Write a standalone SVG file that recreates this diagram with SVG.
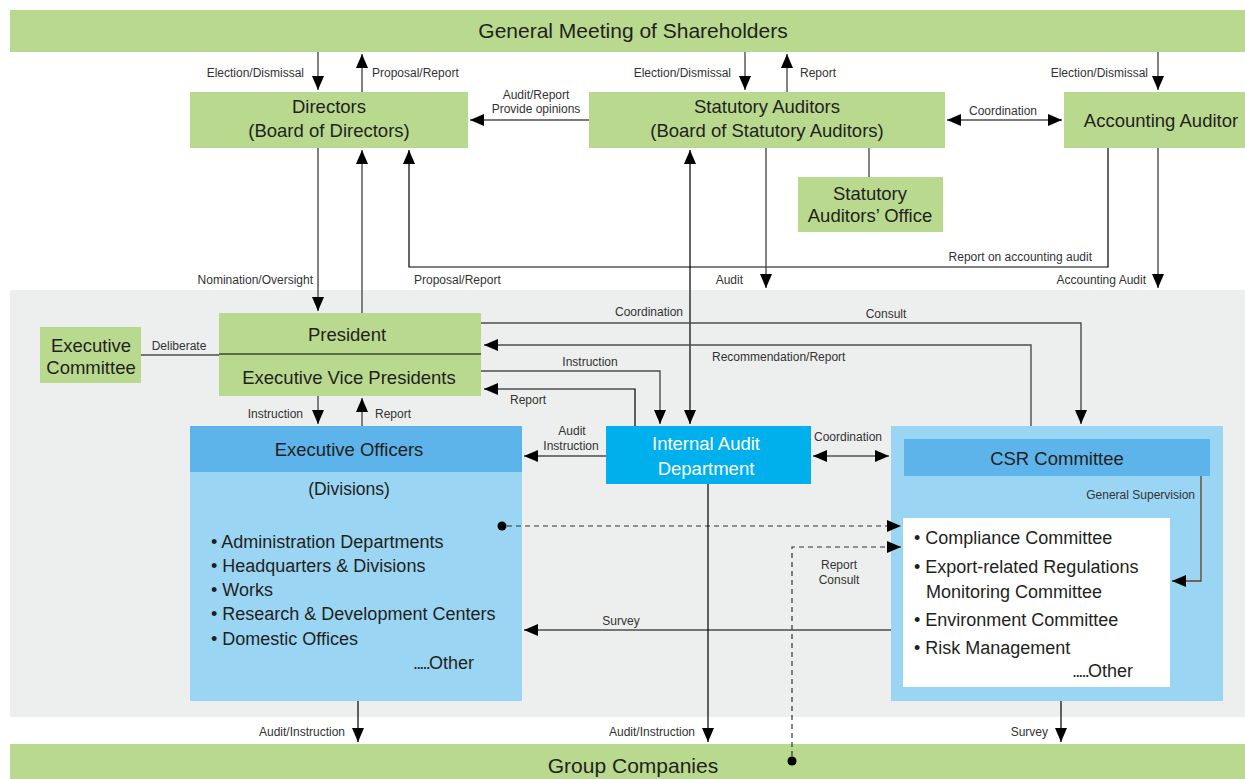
<svg xmlns="http://www.w3.org/2000/svg" width="1245" height="779" viewBox="0 0 1245 779">
<defs>
<marker id="ah" viewBox="0 0 14 12" refX="14" refY="6" markerWidth="14" markerHeight="12" markerUnits="userSpaceOnUse" orient="auto-start-reverse">
<path d="M0,0 L14,6 L0,12 Z" fill="#000"/>
</marker>
<style>
.g{fill:#b9d98f}
.t{font-family:"Liberation Sans",Arial,sans-serif;font-size:18.5px;fill:#231f20;text-anchor:middle}
.b{font-family:"Liberation Sans",Arial,sans-serif;font-size:18px;fill:#231f20}
.s{font-family:"Liberation Sans",Arial,sans-serif;font-size:12px;fill:#333}
.m{text-anchor:middle}
.e{text-anchor:end}
.c{fill:none;stroke:#4d4d4d;stroke-width:1.4}
.k{fill:none;stroke:#000;stroke-width:1.2}
.d{fill:none;stroke:#333;stroke-width:1.2;stroke-dasharray:5,4}
.a{marker-end:url(#ah)}
.aa{marker-start:url(#ah);marker-end:url(#ah)}
</style>
</defs>
<rect width="1245" height="779" fill="#fff"/>
<rect x="10" y="290" width="1235" height="427" fill="#edeeee"/>

<g id="gms"><rect class="g" x="10" y="10" width="1235" height="42"/><text class="t" x="633" y="38" style="font-size:21px">General Meeting of Shareholders</text></g>
<g id="directors"><rect class="g" x="190" y="92" width="278" height="56"/><text class="t" x="329" y="113">Directors</text><text class="t" x="329" y="137">(Board of Directors)</text></g>
<g id="statutory-auditors"><rect class="g" x="589" y="92" width="356" height="56"/><text class="t" x="767" y="113">Statutory Auditors</text><text class="t" x="767" y="137">(Board of Statutory Auditors)</text></g>
<g id="accounting-auditor"><rect class="g" x="1064" y="92" width="181" height="56"/><text class="t" x="1161" y="127">Accounting Auditor</text></g>
<g id="sa-office"><rect class="g" x="798" y="177" width="145" height="55"/><text class="t" x="870" y="200">Statutory</text><text class="t" x="870" y="222">Auditors’ Office</text></g>
<g id="exec-committee"><rect class="g" x="40" y="327" width="101" height="56"/><text class="t" x="91" y="352">Executive</text><text class="t" x="91" y="374">Committee</text></g>
<g id="president"><rect class="g" x="219" y="313" width="262" height="83"/><line x1="219" y1="354" x2="481" y2="354" stroke="#000" stroke-width="1.2"/><text class="t" x="347" y="341">President</text><text class="t" x="349" y="384">Executive Vice Presidents</text></g>
<g id="exec-officers"><rect x="190" y="426" width="332" height="275" fill="#9ad6f4"/><rect x="190" y="426" width="332" height="46" fill="#5db4ea"/><text class="t" x="349" y="456">Executive Officers</text><text class="t" x="349" y="495" style="font-size:17.5px">(Divisions)</text>
<text class="b" x="211" y="548">• Administration Departments</text><text class="b" x="211" y="572">• Headquarters &amp; Divisions</text><text class="b" x="211" y="596">• Works</text><text class="b" x="211" y="620">• Research &amp; Development Centers</text><text class="b" x="211" y="645">• Domestic Offices</text><text class="b e" x="474" y="669"><tspan letter-spacing="-1.8">.....</tspan>Other</text></g>
<g id="internal-audit"><rect x="606" y="426" width="205" height="58" fill="#00b0ec"/><text class="t" x="706" y="450" style="fill:#fff">Internal Audit</text><text class="t" x="706" y="475" style="fill:#fff">Department</text></g>
<g id="csr"><rect x="891" y="426" width="332" height="275" fill="#9ad6f4"/><rect x="904" y="439" width="306" height="37" fill="#5db4ea"/><text class="t" x="1057" y="465">CSR Committee</text><rect x="903" y="518" width="267" height="169" fill="#fff"/>
<text class="b" x="914" y="544">• Compliance Committee</text><text class="b" x="914" y="573">• Export-related Regulations</text><text class="b" x="926" y="598">Monitoring Committee</text><text class="b" x="914" y="626">• Environment Committee</text><text class="b" x="914" y="654">• Risk Management</text><text class="b e" x="1133" y="677"><tspan letter-spacing="-1.8">.....</tspan>Other</text></g>
<g id="group-companies"><rect class="g" x="10" y="744" width="1235" height="35"/><text class="t" x="633" y="773" style="font-size:21px">Group Companies</text></g>

<g id="connectors">
<line class="c a" x1="318" y1="52" x2="318" y2="90"/>
<line class="c a" x1="362" y1="92" x2="362" y2="54"/>
<line class="c a" x1="745" y1="52" x2="745" y2="90"/>
<line class="c a" x1="787" y1="92" x2="787" y2="54"/>
<line class="c a" x1="1158" y1="52" x2="1158" y2="90"/>
<line class="c a" x1="589" y1="120" x2="470" y2="120"/>
<line class="c aa" x1="947" y1="120" x2="1062" y2="120"/>
<line class="c" x1="869" y1="148" x2="869" y2="177"/>
<line class="c a" x1="318" y1="148" x2="318" y2="311"/>
<line class="c a" x1="362" y1="313" x2="362" y2="150"/>
<polyline class="k a" points="1108,148 1108,267 409,267 409,150"/>
<line class="k aa" x1="690" y1="150" x2="690" y2="424"/>
<line class="c a" x1="766" y1="148" x2="766" y2="288"/>
<line class="c a" x1="1158" y1="148" x2="1158" y2="288"/>
<line class="c" x1="141" y1="355" x2="219" y2="355"/>
<line class="c a" x1="318" y1="396" x2="318" y2="424"/>
<line class="c a" x1="362" y1="426" x2="362" y2="398"/>
<polyline class="c a" points="481,323 1081,323 1081,424"/>
<polyline class="c a" points="1031,426 1031,345 484,345"/>
<polyline class="c a" points="481,371 660,371 660,424"/>
<polyline class="k a" points="635,426 635,389 484,389"/>
<line class="c a" x1="606" y1="456" x2="524" y2="456"/>
<line class="k aa" x1="813" y1="456" x2="889" y2="456"/>
<circle cx="502" cy="526" r="4.5" fill="#000"/>
<line class="d a" x1="507" y1="526" x2="901" y2="526"/>
<circle cx="792" cy="761" r="4.5" fill="#000"/>
<polyline class="d a" points="792,756 792,547 901,547"/>
<line class="c a" x1="891" y1="630" x2="524" y2="630"/>
<polyline class="a" points="1201,476 1201,581 1172,581" fill="none" stroke="#6b3b26" stroke-width="1.3"/>
<line class="k a" x1="358" y1="701" x2="358" y2="742"/>
<line class="k a" x1="708" y1="484" x2="708" y2="742"/>
<line class="k a" x1="1061" y1="701" x2="1061" y2="742"/>
</g>

<g id="labels">
<text class="s e" x="304" y="77">Election/Dismissal</text>
<text class="s" x="372" y="77">Proposal/Report</text>
<text class="s e" x="731" y="77">Election/Dismissal</text>
<text class="s" x="800" y="77">Report</text>
<text class="s e" x="1148" y="77">Election/Dismissal</text>
<text class="s m" x="536" y="99">Audit/Report</text>
<text class="s m" x="536" y="113">Provide opinions</text>
<text class="s m" x="1003" y="115">Coordination</text>
<text class="s e" x="313" y="284">Nomination/Oversight</text>
<text class="s" x="414" y="284">Proposal/Report</text>
<text class="s e" x="743" y="284">Audit</text>
<text class="s e" x="1146" y="284">Accounting Audit</text>
<text class="s e" x="1092" y="261">Report on accounting audit</text>
<text class="s m" x="179" y="350">Deliberate</text>
<text class="s e" x="303" y="418">Instruction</text>
<text class="s" x="375" y="418">Report</text>
<text class="s m" x="649" y="316">Coordination</text>
<text class="s m" x="886" y="318">Consult</text>
<text class="s" x="712" y="361">Recommendation/Report</text>
<text class="s m" x="590" y="366">Instruction</text>
<text class="s m" x="528" y="404">Report</text>
<text class="s m" x="572" y="435">Audit</text>
<text class="s m" x="571" y="450">Instruction</text>
<text class="s m" x="848" y="441">Coordination</text>
<text class="s m" x="839" y="569">Report</text>
<text class="s m" x="839" y="584">Consult</text>
<text class="s m" x="621" y="625">Survey</text>
<text class="s e" x="1195" y="499">General Supervision</text>
<text class="s e" x="345" y="736">Audit/Instruction</text>
<text class="s e" x="695" y="736">Audit/Instruction</text>
<text class="s e" x="1048" y="736">Survey</text>
</g>
</svg>
